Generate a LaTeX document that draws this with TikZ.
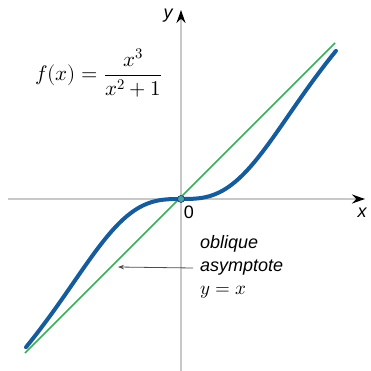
\documentclass[tikz,border=0pt]{standalone}
\usepackage{amsmath}
\usepackage{fontspec}
\usepackage{unicode-math}
\setmathfont{Latin Modern Math}
\setsansfont{Liberation Sans}
\usepackage{tikz}
\usetikzlibrary{arrows.meta,positioning}
\definecolor{ejegris}{RGB}{200,200,200}
\definecolor{curvaazul}{RGB}{22,92,155}
\definecolor{rectaverde}{RGB}{62,172,90}
\definecolor{puntoteal}{RGB}{80,160,170}
\colorlet{flecha}{black!70}

\begin{document}
\begin{tikzpicture}[x=1pt,y=1pt,>=Stealth,
    etiqueta/.style={font=\sffamily\itshape\fontsize{18}{20}\selectfont,inner ysep=0pt,inner xsep=7pt,anchor=west},
    eje/.style={ejegris,line width=2pt,-{Stealth[black,length=13pt,width=9pt]}}]
  \useasboundingbox (-181,-172) rectangle (189,199);
  % ejes
  \coordinate (xizq) at (-173,0);
  \coordinate (xder) at (184,0);
  \coordinate (yabajo) at (0,-172);
  \coordinate (yarriba) at (0,189);
  \draw[eje] (xizq) -- (xder);
  \draw[eje] (yabajo) -- (yarriba);
  \node[font=\sffamily\itshape\fontsize{18}{20}\selectfont] (ylab) at (-13,183) {y};
  \node[font=\sffamily\itshape\fontsize{18}{20}\selectfont] (xlab) at (181,-14) {x};
  \node[font=\sffamily\fontsize{18}{20}\selectfont] (cero) at (8,-13) {0};
  % asintota y curva
  \draw[rectaverde,line width=1.5pt] (-156,-154) -- (154,156);
  \draw[curvaazul,line width=4pt,line cap=round] plot[domain=-2.5:2.5,samples=80,smooth]
    ({62*\x},{62*\x*(1-exp(-\x*\x/2))});
  \filldraw[fill=puntoteal,draw=curvaazul!70!black,line width=0.6pt] (0,0) circle (3.5);
  % etiquetas
  \node[etiqueta] (obl) at (12,-45) {oblique};
  \node[etiqueta] (asym) at (12,-69) {asymptote};
  \node[etiqueta,font=\fontsize{19}{21}\selectfont] (igual) at (12,-93) {$y=x$};
  \coordinate (tip) at (-63,-68);
  \draw[flecha,line width=0.8pt,-{Stealth[length=6pt,width=4.5pt]}] (asym.west) -- (tip);
  \node (formula) at (-82,126) {\fontsize{21}{25}\selectfont$f(x)=\dfrac{x^3}{x^2+1}$};
\end{tikzpicture}
\end{document}
